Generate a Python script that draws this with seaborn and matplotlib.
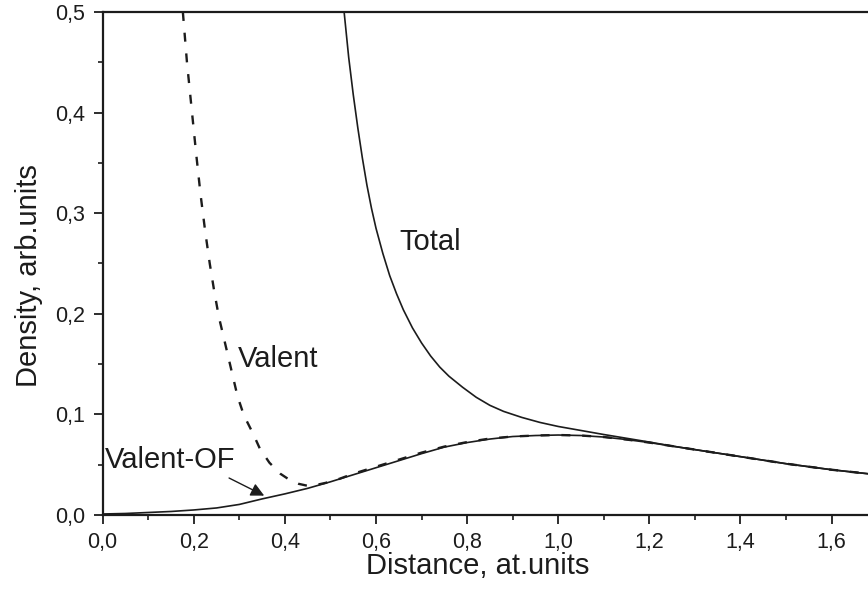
import numpy as np
import pandas as pd
import matplotlib
matplotlib.use('Agg')
import matplotlib.pyplot as plt
import seaborn as sns
from matplotlib.ticker import AutoMinorLocator, FuncFormatter, MultipleLocator

# curves
valent_of_x = [0.0, 0.05, 0.1, 0.15, 0.2, 0.25, 0.3, 0.35, 0.4, 0.45, 0.5, 0.55, 0.6, 0.65,
               0.7, 0.75, 0.8, 0.85, 0.9, 0.95, 1.0, 1.05, 1.1, 1.15, 1.2, 1.25, 1.3, 1.35,
               1.4, 1.45, 1.5, 1.55, 1.6, 1.68]
valent_of_y = [0.001, 0.0015, 0.0025, 0.0035, 0.005, 0.007, 0.0105, 0.016, 0.021, 0.0265,
               0.033, 0.040, 0.047, 0.054, 0.061, 0.0675, 0.072, 0.0755, 0.078, 0.079, 0.0795,
               0.079, 0.0775, 0.075, 0.072, 0.0685, 0.065, 0.0615, 0.058, 0.0545, 0.051,
               0.048, 0.045, 0.041]

valent_x = [0.176, 0.185, 0.195, 0.205, 0.215, 0.225, 0.235, 0.245, 0.255, 0.268, 0.282, 0.296,
            0.31, 0.33, 0.345, 0.366, 0.39, 0.41, 0.43, 0.45, 0.47, 0.49, 0.52, 0.55, 0.6,
            0.65, 0.7, 0.75, 0.8, 0.85, 0.9, 0.95, 1.0, 1.05, 1.1, 1.15, 1.2, 1.25, 1.3, 1.35,
            1.4, 1.45, 1.5, 1.55, 1.6, 1.68]
valent_y = [0.5, 0.45, 0.405, 0.36, 0.318, 0.282, 0.25, 0.222, 0.197, 0.172, 0.145, 0.118,
            0.099, 0.081, 0.066, 0.052, 0.041, 0.035, 0.031, 0.029, 0.030, 0.032, 0.036, 0.041,
            0.048, 0.055, 0.062, 0.068, 0.0725, 0.076, 0.078, 0.079, 0.0795, 0.079, 0.0775,
            0.075, 0.072, 0.0685, 0.065, 0.0615, 0.058, 0.0545, 0.051, 0.048, 0.045, 0.041]

total_x = [0.530, 0.540, 0.550, 0.560, 0.570, 0.580, 0.590, 0.600, 0.615, 0.630, 0.645, 0.660,
           0.680, 0.700, 0.720, 0.740, 0.760, 0.790, 0.820, 0.850, 0.880, 0.920, 0.960, 1.000,
           1.050, 1.100, 1.160, 1.200, 1.25, 1.3, 1.35, 1.4, 1.45, 1.5, 1.55, 1.6, 1.68]
total_y = [0.500, 0.455, 0.418, 0.385, 0.355, 0.328, 0.305, 0.285, 0.260, 0.238, 0.220, 0.204,
           0.186, 0.171, 0.158, 0.147, 0.138, 0.127, 0.117, 0.109, 0.103, 0.097, 0.092, 0.088,
           0.084, 0.080, 0.0755, 0.0725, 0.0685, 0.065, 0.0615, 0.058, 0.0545, 0.051, 0.048,
           0.045, 0.041]

sns.set_theme(style='ticks')
plt.rcParams['font.family'] = ['Liberation Sans', 'DejaVu Sans']

ink = '#1c1c1c'
fig = plt.figure(figsize=(8.68, 5.91), dpi=100)
ax = fig.add_axes([0.1183, 0.1286, 0.8817, 0.8511])

sns.lineplot(x=valent_of_x, y=valent_of_y, ax=ax, color=ink, lw=1.2, estimator=None)
sns.lineplot(x=valent_x, y=valent_y, ax=ax, color=ink, lw=1.7, estimator=None,
             linestyle=(0, (3.8, 5.0)))
sns.lineplot(x=total_x, y=total_y, ax=ax, color=ink, lw=1.2, estimator=None)

ax.set_xlim(0, 1.68)
ax.set_ylim(0, 0.5)
ax.xaxis.set_major_locator(MultipleLocator(0.2))
ax.yaxis.set_major_locator(MultipleLocator(0.1))
ax.xaxis.set_minor_locator(AutoMinorLocator(2))
ax.yaxis.set_minor_locator(AutoMinorLocator(2))
comma = FuncFormatter(lambda v, p: f'{v:.1f}'.replace('.', ','))
ax.xaxis.set_major_formatter(comma)
ax.yaxis.set_major_formatter(comma)
ax.tick_params(which='major', direction='out', length=6.5, width=1.3, labelsize=15.5,
               colors=ink, pad=6)
ax.tick_params(which='minor', direction='out', length=3.5, width=1.2, colors=ink)
ax.tick_params(top=False, right=False)

for side in ['left', 'bottom', 'top']:
    ax.spines[side].set_linewidth(1.6)
    ax.spines[side].set_color(ink)
ax.spines['right'].set_visible(False)

ax.set_xlabel('Distance, at.units', fontsize=21, color=ink)
ax.set_ylabel('Density, arb.units', fontsize=21, color=ink)
ax.xaxis.set_label_coords(0.49, -0.074)
ax.yaxis.set_label_coords(-0.078, 0.477)

ax.text(0.652, 0.263, 'Total', fontsize=21, color=ink, va='baseline')
ax.text(0.297, 0.147, 'Valent', fontsize=21, color=ink, va='baseline')
ax.text(0.005, 0.047, 'Valent-OF', fontsize=21, color=ink, va='baseline')
ax.annotate('', xy=(0.36, 0.018), xytext=(0.272, 0.038),
            arrowprops=dict(arrowstyle='-|>', color=ink, lw=1.0, mutation_scale=20))

fig.savefig('out.png', dpi=100)
